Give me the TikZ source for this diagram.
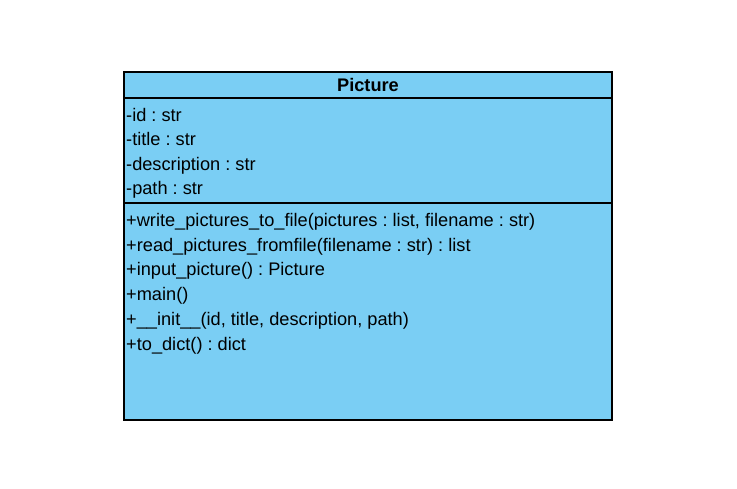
\documentclass[tikz,border=0pt]{standalone}
\usepackage{fontspec}
\setmainfont{Liberation Sans}
\definecolor{umlblue}{RGB}{122,206,244}
\frenchspacing
\begin{document}
\begin{tikzpicture}[x=1pt,y=-1pt,
  member/.style={anchor=base west,inner sep=0pt,font=\fontsize{18.2}{20}\selectfont},
  title/.style={anchor=base,inner sep=0pt,font=\fontsize{18.2}{20}\selectfont\bfseries}]
\useasboundingbox (0,0) rectangle (737,488);
\node[draw=black,fill=umlblue,line width=1.3pt,minimum width=488pt,minimum height=348pt,inner sep=0pt] (cls) at (368,246) {};
\coordinate (h1l) at (124,98); \coordinate (h1r) at (612,98);
\coordinate (h2l) at (124,203); \coordinate (h2r) at (612,203);
\draw[line width=1.3pt] (h1l) -- (h1r);
\draw[line width=1.3pt] (h2l) -- (h2r);
\node[title] (name) at (368,91.5) {Picture};
\node[member] (a1) at (126,121) {-id : str};
\node[member] (a2) at (126,145.5) {-title : str};
\node[member] (a3) at (126,170) {-description : str};
\node[member] (a4) at (126,194.5) {-path : str};
\node[member] (m1) at (126,226) {+write\_pictures\_to\_file(pictures : list, filename : str)};
\node[member] (m2) at (126,251) {+read\_pictures\_fromfile(filename : str) : list};
\node[member] (m3) at (126,275.5) {+input\_picture() : Picture};
\node[member] (m4) at (126,300) {+main()};
\node[member] (m5) at (126,325) {+\_\_init\_\_(id, title, description, path)};
\node[member] (m6) at (126,350) {+to\_dict() : dict};
\end{tikzpicture}
\end{document}
